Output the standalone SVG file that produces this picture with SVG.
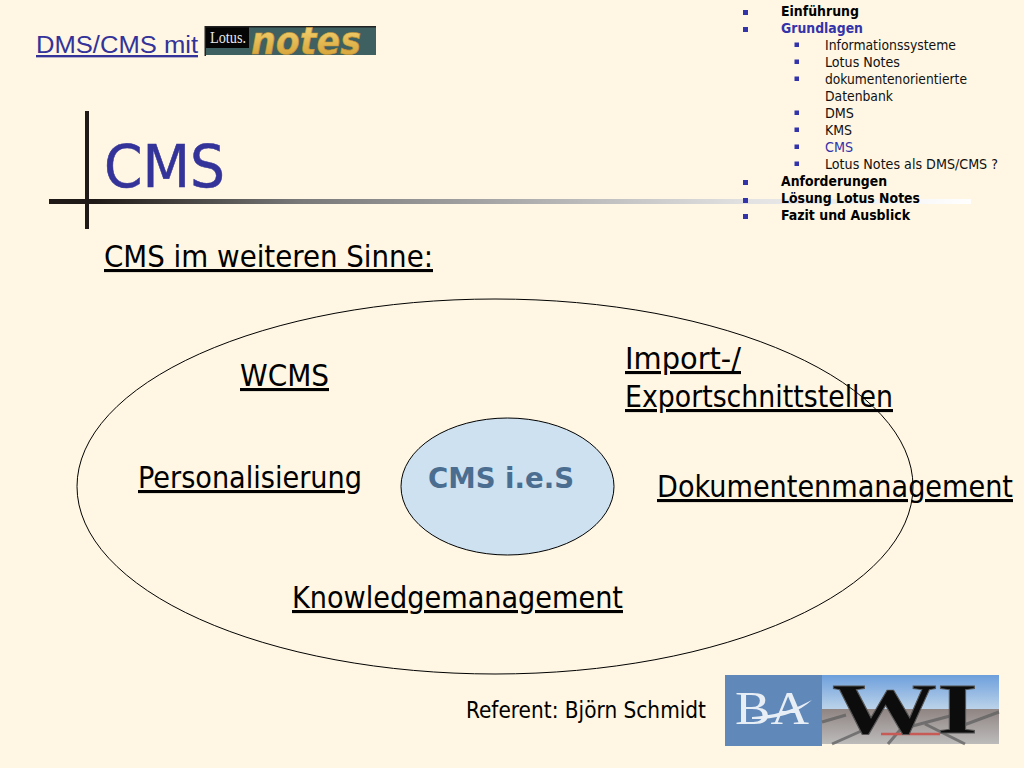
<svg xmlns="http://www.w3.org/2000/svg" width="1024" height="768" viewBox="0 0 1024 768">
<style>
.t{font-family:"DejaVu Sans Condensed","DejaVu Sans",sans-serif}
.big{font-family:"DejaVu Sans Condensed","DejaVu Sans",sans-serif;font-size:31px;fill:#000;text-decoration:underline}
.m{font-family:"DejaVu Sans Condensed","DejaVu Sans",sans-serif;font-size:13.5px;fill:#111}
.b{font-weight:bold;fill:#000}
.bl{fill:#3333aa}
.bu{fill:#333399}
</style>
<defs>
<linearGradient id="rule" x1="0" x2="1" y1="0" y2="0">
<stop offset="0" stop-color="#1f1a17"/><stop offset="0.05" stop-color="#1f1a17"/><stop offset="0.27" stop-color="#787878"/><stop offset="0.76" stop-color="#e2e2e2"/><stop offset="1" stop-color="#ffffff"/>
</linearGradient>
<linearGradient id="gold" x1="0" x2="0" y1="0" y2="1">
<stop offset="0" stop-color="#f9dc7c"/><stop offset="1" stop-color="#cf9a2e"/>
</linearGradient>
<linearGradient id="sky" x1="0" x2="0" y1="0" y2="1">
<stop offset="0" stop-color="#6d9fdc"/><stop offset="1" stop-color="#c0d6ea"/>
</linearGradient>
<linearGradient id="ground" x1="0" x2="0" y1="0" y2="1">
<stop offset="0" stop-color="#8f8582"/><stop offset="1" stop-color="#bdbbbb"/>
</linearGradient>
</defs>
<rect width="1024" height="768" fill="#fff7e3"/>

<g id="header-rule">
<rect x="49" y="199" width="922" height="5" fill="url(#rule)"/>
<rect x="85" y="111" width="4" height="118" fill="#1f1a17"/>
</g>

<g id="header-title">
<text class="bu" x="36" y="53" font-size="23.5" style="font-family:'Liberation Sans',Arial,sans-serif;text-decoration:underline" textLength="162" lengthAdjust="spacingAndGlyphs">DMS/CMS mit</text>
</g>

<g id="lotus-logo">
<rect x="205" y="26" width="171" height="29" fill="#3f6060"/>
<rect x="205" y="27" width="44" height="21" fill="#050505"/>
<rect x="205" y="26" width="171" height="1.500" fill="#222"/>
<rect x="204.500" y="26" width="1.500" height="30" fill="#222"/>
<text x="210" y="43" font-size="17" fill="#e8e8e8" style="font-family:'Liberation Serif',serif" textLength="36" lengthAdjust="spacingAndGlyphs">Lotus.</text>
<text x="251" y="54" font-size="38" font-weight="bold" font-style="italic" fill="url(#gold)" stroke="#c8952c" stroke-width="0.6" style="font-family:'DejaVu Sans',sans-serif" textLength="110" lengthAdjust="spacingAndGlyphs">notes</text>
</g>

<g id="title">
<text class="t bu" x="104" y="187" font-size="59" textLength="121" lengthAdjust="spacingAndGlyphs" stroke="#333399" stroke-width="0.5">CMS</text>
</g>

<g id="nav">
<g fill="#3333aa">
<rect x="743" y="10" width="5" height="5"/><rect x="743" y="27" width="5" height="5"/>
<rect x="743" y="180" width="5" height="5"/><rect x="743" y="198" width="5" height="5"/><rect x="743" y="214" width="5" height="5"/>
<rect x="794.500" y="42.500" width="4.500" height="4.500"/><rect x="794.500" y="59.500" width="4.500" height="4.500"/><rect x="794.500" y="76.500" width="4.500" height="4.500"/>
<rect x="794.500" y="110.500" width="4.500" height="4.500"/><rect x="794.500" y="127.500" width="4.500" height="4.500"/><rect x="794.500" y="144.500" width="4.500" height="4.500"/><rect x="794.500" y="161.500" width="4.500" height="4.500"/>
</g>
<text class="m b" x="781" y="16" textLength="78" lengthAdjust="spacingAndGlyphs">Einführung</text>
<text class="m b bl" x="781" y="33" textLength="82" lengthAdjust="spacingAndGlyphs">Grundlagen</text>
<text class="m" x="825" y="50" textLength="131" lengthAdjust="spacingAndGlyphs">Informationssysteme</text>
<text class="m" x="825" y="67" textLength="75" lengthAdjust="spacingAndGlyphs">Lotus Notes</text>
<text class="m" x="825" y="84" textLength="142" lengthAdjust="spacingAndGlyphs">dokumentenorientierte</text>
<text class="m" x="825" y="101" textLength="68" lengthAdjust="spacingAndGlyphs">Datenbank</text>
<text class="m" x="825" y="118" textLength="29" lengthAdjust="spacingAndGlyphs">DMS</text>
<text class="m" x="825" y="135" textLength="27" lengthAdjust="spacingAndGlyphs">KMS</text>
<text class="m bl" x="825" y="152" textLength="28" lengthAdjust="spacingAndGlyphs">CMS</text>
<text class="m" x="825" y="169" textLength="173" lengthAdjust="spacingAndGlyphs">Lotus Notes als DMS/CMS ?</text>
<text class="m b" x="781" y="186" textLength="106" lengthAdjust="spacingAndGlyphs">Anforderungen</text>
<text class="m b" x="781" y="203" textLength="139" lengthAdjust="spacingAndGlyphs">Lösung Lotus Notes</text>
<text class="m b" x="781" y="220" textLength="129" lengthAdjust="spacingAndGlyphs">Fazit und Ausblick</text>
</g>

<g id="subtitle">
<text class="big" x="104" y="267" textLength="329" lengthAdjust="spacingAndGlyphs">CMS im weiteren Sinne:</text>
</g>

<g id="outer-ellipse">
<ellipse cx="495" cy="486.500" rx="418" ry="187.500" fill="none" stroke="#000" stroke-width="1"/>
</g>
<g id="inner-ellipse">
<ellipse cx="507.500" cy="486.500" rx="106.500" ry="68.500" fill="#cde1f1" stroke="#000" stroke-width="1"/>
<text class="t" x="501" y="488" font-size="29" font-weight="bold" fill="#4a6d90" text-anchor="middle" textLength="146" lengthAdjust="spacingAndGlyphs">CMS i.e.S</text>
</g>

<g id="wcms"><text class="big" x="240" y="386" textLength="89" lengthAdjust="spacingAndGlyphs">WCMS</text></g>
<g id="import">
<text class="big" x="625" y="369" textLength="116" lengthAdjust="spacingAndGlyphs">Import-/</text>
<text class="big" x="625" y="407" textLength="268" lengthAdjust="spacingAndGlyphs">Exportschnittstellen</text>
</g>
<g id="personalisierung"><text class="big" x="138" y="488" textLength="224" lengthAdjust="spacingAndGlyphs">Personalisierung</text></g>
<g id="dokumentenmanagement"><text class="big" x="657" y="497" textLength="356" lengthAdjust="spacingAndGlyphs">Dokumentenmanagement</text></g>
<g id="knowledgemanagement"><text class="big" x="292" y="608" textLength="331" lengthAdjust="spacingAndGlyphs">Knowledgemanagement</text></g>

<g id="referent">
<text class="t" x="466" y="718" font-size="23" fill="#000" textLength="240" lengthAdjust="spacingAndGlyphs">Referent: Björn Schmidt</text>
</g>

<g id="ba-logo">
<rect x="725" y="675" width="97" height="71" fill="#6088b8"/>
<text x="735" y="724" font-size="46" fill="#e8eef5" style="font-family:'Liberation Serif',serif" textLength="74" lengthAdjust="spacingAndGlyphs">BA</text>
<path d="M752 717Q785 715 812 700Q790 720 752 719Z" fill="#e8eef5"/>
</g>
<g id="wi-logo">
<rect x="822" y="675" width="177" height="36" fill="url(#sky)"/>
<rect x="822" y="709" width="177" height="35" fill="url(#ground)"/>
<g stroke="#5f5f5f" stroke-width="3" fill="none" opacity="0.75">
<path d="M832 744L868 728M965 744L925 724M888 744L900 730M945 732L999 712M822 722L846 715M905 728L950 716"/>
</g>
<path d="M881 734H940" stroke="#c85a55" stroke-width="2.500"/>
<text x="832" y="733" font-size="72" font-weight="bold" fill="#0c0c0c" stroke="#555" stroke-width="0.8" style="font-family:'Liberation Serif',serif" textLength="146" lengthAdjust="spacingAndGlyphs">WI</text>
</g>
</svg>
